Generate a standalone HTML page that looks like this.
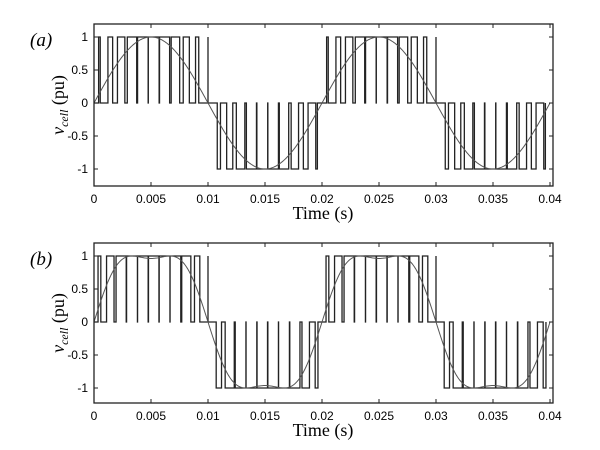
<!DOCTYPE html>
<html><head><style>
body{margin:0;background:#fff;}
svg{display:block;font-family:"Liberation Sans",sans-serif;}
</style></head><body>
<svg id="s" width="600" height="450" xmlns="http://www.w3.org/2000/svg">
<rect width="600" height="450" fill="#fff"/>
</svg>
<script>
const s=document.getElementById('s');
const NS='http://www.w3.org/2000/svg';
function el(t,a,txt){const e=document.createElementNS(NS,t);for(const k in a)e.setAttribute(k,a[k]);if(txt!==undefined)e.textContent=txt;s.appendChild(e);return e;}
function ref(t,flat){const x=2*Math.PI*50*t;let r=Math.sin(x);if(flat)r=1.155*(Math.sin(x)+Math.sin(3*x)/6);return Math.max(-1,Math.min(1,r));}
function panel(top,bot,y1,y0,ym1,label,flat){
  const L=94,R=553,X=t=>94+t*11400;
  const Y=v=>y0-(y0-y1)*v;
  const Tc=1/1050;let d='M'+X(0)+','+Y(0);
  for(let k=0;k*Tc<0.04;k++){
    const tc=(k+0.5)*Tc;let r=ref(tc,flat);
    const a=Math.abs(r),sg=r>=0?1:-1,w=a*Tc;
    const t0=tc-w/2,t1=tc+w/2;
    d+=' L'+X(t0).toFixed(2)+','+Y(0)+' L'+X(t0).toFixed(2)+','+Y(sg)+' L'+X(t1).toFixed(2)+','+Y(sg)+' L'+X(t1).toFixed(2)+','+Y(0);
  }
  el('path',{d:d,fill:'none',stroke:'#222','stroke-width':1.3});
  let dr='';
  for(let i=0;i<=400;i++){const t=i*0.0001;const r=ref(t,flat);dr+=(i?' L':'M')+X(t).toFixed(2)+','+Y(r).toFixed(2);}
  el('path',{d:dr,fill:'none',stroke:'#555','stroke-width':1});
  el('rect',{x:L,y:top,width:R-L,height:bot-top,fill:'none',stroke:'#222','stroke-width':1.3});
  const yt=[[1,'1'],[0.5,'0.5'],[0,'0'],[-0.5,'-0.5'],[-1,'-1']];
  yt.forEach(([v,l])=>{el('line',{x1:L,x2:L+4,y1:Y(v),y2:Y(v),stroke:'#222'});el('line',{x1:R,x2:R-4,y1:Y(v),y2:Y(v),stroke:'#222'});el('text',{x:L-6,y:Y(v)+4,'text-anchor':'end','font-size':12},l);});
  ['0','0.005','0.01','0.015','0.02','0.025','0.03','0.035','0.04'].forEach((l,i)=>{const x=X(i*0.005);el('line',{x1:x,x2:x,y1:bot,y2:bot-4,stroke:'#222'});el('line',{x1:x,x2:x,y1:top,y2:top+4,stroke:'#222'});el('text',{x:x,y:bot+17,'text-anchor':'middle','font-size':12},l);});
  el('text',{x:323,y:bot+33,'text-anchor':'middle','font-size':18,'font-family':'Liberation Serif,serif'},'Time (s)');
  el('text',{x:30,y:y1+9,'font-size':19,'font-style':'italic','font-family':'Liberation Serif,serif'},label);
  const g=el('text',{transform:'translate(64,'+((top+bot)/2)+') rotate(-90)','text-anchor':'middle','font-size':18,'font-family':'Liberation Serif,serif'});
  g.innerHTML='<tspan font-style="italic">v</tspan><tspan font-style="italic" font-size="12" dy="4">cell</tspan><tspan dy="-4"> (pu)</tspan>';
}
panel(24,186,37,103,170,'(a)',false);
panel(243,403,256,322,389,'(b)',true);
</script>
</body></html>
